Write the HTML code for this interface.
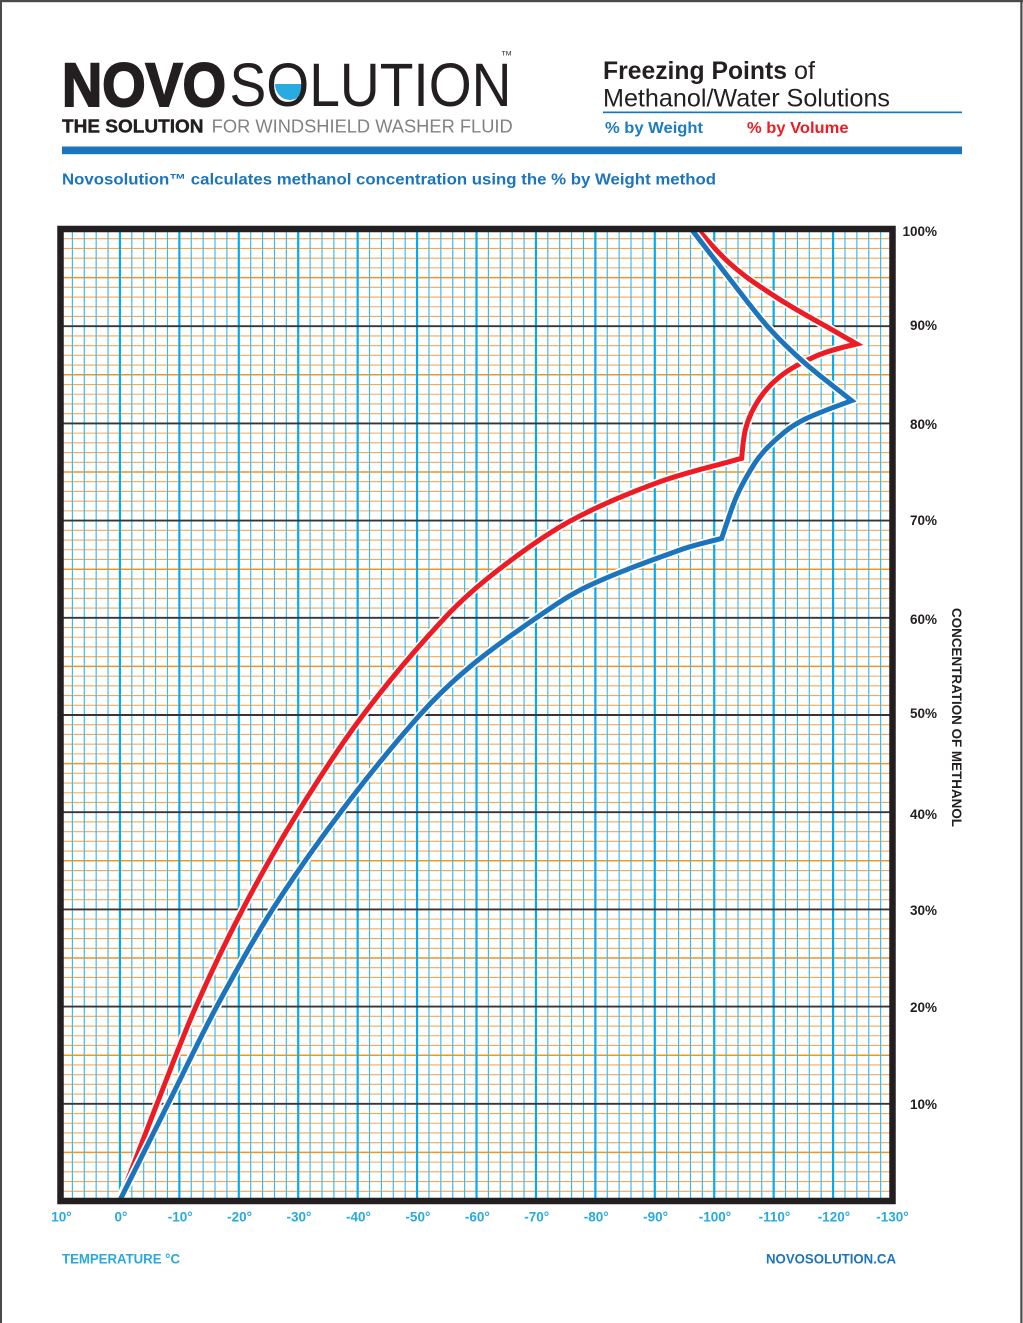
<!DOCTYPE html>
<html>
<head>
<meta charset="utf-8">
<style>
html,body{margin:0;padding:0;background:#fff;overflow:hidden;}
svg{display:block;}
</style>
</head>
<body>
<svg width="1023" height="1323" viewBox="0 0 1023 1323" xmlns="http://www.w3.org/2000/svg" font-family="'Liberation Sans', Arial, sans-serif">
<rect x="0" y="0" width="1023" height="1323" fill="#fff"/>
<!-- page border -->
<rect x="0" y="0" width="1023" height="2.2" fill="#4a4a4a"/>
<rect x="0" y="0" width="2" height="1323" fill="#4a4a4a"/>
<rect x="1020.3" y="0" width="2.2" height="1323" fill="#4a4a4a"/>

<!-- Logo -->
<path d="M275,84 A15,16 0 0 0 305,84 Z" fill="#29abe2"/>
<text x="62" y="106" font-size="61" font-weight="bold" fill="#231f20" stroke="#231f20" stroke-width="2" textLength="164" lengthAdjust="spacingAndGlyphs">NOVO</text>
<text x="229.5" y="106" font-size="61" fill="#231f20" textLength="282" lengthAdjust="spacingAndGlyphs">SOLUTION</text>
<text x="501.5" y="55.5" font-size="6.5" fill="#231f20" textLength="10" lengthAdjust="spacingAndGlyphs">TM</text>
<text x="62" y="132.3" font-size="18" font-weight="bold" fill="#231f20" stroke="#231f20" stroke-width="0.4" textLength="141.5" lengthAdjust="spacingAndGlyphs">THE SOLUTION</text>
<text x="211.7" y="132.3" font-size="18" fill="#808285" textLength="301" lengthAdjust="spacingAndGlyphs">FOR WINDSHIELD WASHER FLUID</text>

<!-- Right header -->
<text x="603" y="79" font-size="25" font-weight="bold" fill="#231f20" textLength="184" lengthAdjust="spacingAndGlyphs">Freezing Points</text>
<text x="794" y="79" font-size="25" fill="#231f20" textLength="21" lengthAdjust="spacingAndGlyphs">of</text>
<text x="603" y="106.7" font-size="25" fill="#231f20" textLength="287" lengthAdjust="spacingAndGlyphs">Methanol/Water Solutions</text>
<rect x="603" y="111.5" width="359" height="1.7" fill="#1c75bc"/>
<text x="605" y="133" font-size="16" font-weight="bold" fill="#1b7cc2" textLength="98" lengthAdjust="spacingAndGlyphs">% by Weight</text>
<text x="747" y="133" font-size="16" font-weight="bold" fill="#ed1c24" textLength="101.5" lengthAdjust="spacingAndGlyphs">% by Volume</text>

<!-- blue bar -->
<rect x="62" y="146.5" width="900" height="7.7" fill="#1c75bc"/>

<text x="62" y="184.5" font-size="15.5" font-weight="bold" fill="#1c75bc" textLength="654" lengthAdjust="spacingAndGlyphs">Novosolution™ calculates methanol concentration using the % by Weight method</text>

<!-- Grid: thin orange 1% lines -->
<path fill="none" stroke="#f8a854" stroke-width="1.1" d="M60 1191.28H893M60 1181.56H893M60 1171.84H893M60 1162.12H893M60 1142.68H893M60 1132.96H893M60 1123.24H893M60 1113.52H893M60 1094.08H893M60 1084.36H893M60 1074.64H893M60 1064.92H893M60 1045.48H893M60 1035.76H893M60 1026.04H893M60 1016.32H893M60 996.88H893M60 987.16H893M60 977.44H893M60 967.72H893M60 948.28H893M60 938.56H893M60 928.84H893M60 919.12H893M60 899.68H893M60 889.96H893M60 880.24H893M60 870.52H893M60 851.08H893M60 841.36H893M60 831.64H893M60 821.92H893M60 802.48H893M60 792.76H893M60 783.04H893M60 773.32H893M60 753.88H893M60 744.16H893M60 734.44H893M60 724.72H893M60 705.28H893M60 695.56H893M60 685.84H893M60 676.12H893M60 656.68H893M60 646.96H893M60 637.24H893M60 627.52H893M60 608.08H893M60 598.36H893M60 588.64H893M60 578.92H893M60 559.48H893M60 549.76H893M60 540.04H893M60 530.32H893M60 510.88H893M60 501.16H893M60 491.44H893M60 481.72H893M60 462.28H893M60 452.56H893M60 442.84H893M60 433.12H893M60 413.68H893M60 403.96H893M60 394.24H893M60 384.52H893M60 365.08H893M60 355.36H893M60 345.64H893M60 335.92H893M60 316.48H893M60 306.76H893M60 297.04H893M60 287.32H893M60 267.88H893M60 258.16H893M60 248.44H893M60 238.72H893"/>
<!-- 5% orange -->
<path fill="none" stroke="#f7941d" stroke-width="1.5" d="M60 1152.4H893M60 1055.2H893M60 958H893M60 860.8H893M60 763.6H893M60 666.4H893M60 569.2H893M60 472H893M60 374.8H893M60 277.6H893"/>
<!-- thin blue verticals -->
<path fill="none" stroke="#35b9ee" stroke-width="1.15" d="M72.39 229V1201M84.27 229V1201M96.16 229V1201M108.04 229V1201M131.82 229V1201M143.7 229V1201M155.59 229V1201M167.47 229V1201M191.25 229V1201M203.13 229V1201M215.02 229V1201M226.9 229V1201M250.68 229V1201M262.56 229V1201M274.45 229V1201M286.33 229V1201M310.11 229V1201M321.99 229V1201M333.88 229V1201M345.76 229V1201M369.54 229V1201M381.42 229V1201M393.31 229V1201M405.19 229V1201M428.97 229V1201M440.85 229V1201M452.74 229V1201M464.62 229V1201M488.4 229V1201M500.28 229V1201M512.17 229V1201M524.05 229V1201M547.83 229V1201M559.71 229V1201M571.6 229V1201M583.48 229V1201M607.26 229V1201M619.14 229V1201M631.03 229V1201M642.91 229V1201M666.69 229V1201M678.57 229V1201M690.46 229V1201M702.34 229V1201M726.12 229V1201M738 229V1201M749.89 229V1201M761.77 229V1201M785.55 229V1201M797.43 229V1201M809.32 229V1201M821.2 229V1201M844.98 229V1201M856.86 229V1201M868.75 229V1201M880.63 229V1201"/>
<!-- thick blue verticals (10 deg) -->
<path fill="none" stroke="#00aeef" stroke-width="2.2" d="M119.93 229V1201M179.36 229V1201M238.79 229V1201M298.22 229V1201M357.65 229V1201M417.08 229V1201M476.51 229V1201M535.94 229V1201M595.37 229V1201M654.8 229V1201M714.23 229V1201M773.66 229V1201M833.09 229V1201"/>
<!-- black 10% lines -->
<path fill="none" stroke="#3b3432" stroke-width="1.9" d="M60 1103.8H893M60 1006.6H893M60 909.4H893M60 812.2H893M60 715H893M60 617.8H893M60 520.6H893M60 423.4H893M60 326.2H893"/>

<!-- curves -->
<g fill="none" stroke-linejoin="miter" stroke-miterlimit="10" stroke-linecap="butt">
<path d="M119.5,1201 C132,1168.6 144.29,1136.13 157,1103.8 C169.77,1071.31 181.84,1038.53 195.9,1006.6 C210.38,973.72 225.89,941.2 242.6,909.4 C259.94,876.39 278.34,843.91 298,812.2 C318.55,779.05 339.58,746.12 363.1,715 C388.62,681.22 415.93,648.74 444.8,617.8 C461.37,600.04 479.95,584.02 499.2,569.2 C522.11,551.55 545.7,534.43 571.1,520.6 C599.49,505.15 629.64,492.79 660,481.7 C686.6,471.98 714.48,466.09 741.7,458.3 Q743.3,438.3 745.3,430 Q747.3,421.7 751.15,413.35 Q755,405 760.85,396.65 Q766.7,388.3 775,380.8 Q783.3,373.3 793.3,367.5 Q803.3,361.7 816.65,355.85 Q830,350 856.7,344 L826.7,326.7 Q793.3,308.3 776.65,297.5 Q760,286.7 751.65,280.85 Q743.3,275 731.65,265 Q720,255 700,231.7 L697.9,229" stroke="#fff" stroke-width="8.5"/>
<path d="M119.5,1201 C132,1168.6 144.29,1136.13 157,1103.8 C169.77,1071.31 181.84,1038.53 195.9,1006.6 C210.38,973.72 225.89,941.2 242.6,909.4 C259.94,876.39 278.34,843.91 298,812.2 C318.55,779.05 339.58,746.12 363.1,715 C388.62,681.22 415.93,648.74 444.8,617.8 C461.37,600.04 479.95,584.02 499.2,569.2 C522.11,551.55 545.7,534.43 571.1,520.6 C599.49,505.15 629.64,492.79 660,481.7 C686.6,471.98 714.48,466.09 741.7,458.3 Q743.3,438.3 745.3,430 Q747.3,421.7 751.15,413.35 Q755,405 760.85,396.65 Q766.7,388.3 775,380.8 Q783.3,373.3 793.3,367.5 Q803.3,361.7 816.65,355.85 Q830,350 856.7,344 L826.7,326.7 Q793.3,308.3 776.65,297.5 Q760,286.7 751.65,280.85 Q743.3,275 731.65,265 Q720,255 700,231.7 L697.9,229" stroke="#ed1c24" stroke-width="5"/>
<path d="M119.5,1201 C135.7,1168.61 151.9,1136.19 168.1,1103.8 C184.3,1071.41 199.56,1038.52 216.7,1006.6 C234.38,973.68 252.5,940.9 272.6,909.4 C293.87,876.08 316.72,843.71 340.6,812.2 C365.85,778.89 392,746.22 419.8,715 C435.25,697.65 452.16,681.57 470,666.7 C491.12,649.1 513.71,633.34 536.4,617.8 C552.65,606.67 568.89,595.11 586.7,586.7 C616.92,572.43 648.54,561.3 680,550 C693.58,545.12 707.8,542.2 721.7,538.3 Q728.3,518.3 732.5,506.65 Q736.7,495 742.5,484.15 Q748.3,473.3 754.15,464.15 Q760,455 768.35,446.65 Q776.7,438.3 785,431.65 Q793.3,425 805,419.15 Q816.7,413.3 851.7,400.7 C835.57,387.7 818.87,375.4 803.3,361.7 C790.91,350.79 778.92,339.36 768,327 C753.35,310.42 740.35,292.42 726.7,275 C715.45,260.65 704.44,246.14 693.3,231.7 L691.2,229" stroke="#fff" stroke-width="8.5"/>
<path d="M119.5,1201 C135.7,1168.61 151.9,1136.19 168.1,1103.8 C184.3,1071.41 199.56,1038.52 216.7,1006.6 C234.38,973.68 252.5,940.9 272.6,909.4 C293.87,876.08 316.72,843.71 340.6,812.2 C365.85,778.89 392,746.22 419.8,715 C435.25,697.65 452.16,681.57 470,666.7 C491.12,649.1 513.71,633.34 536.4,617.8 C552.65,606.67 568.89,595.11 586.7,586.7 C616.92,572.43 648.54,561.3 680,550 C693.58,545.12 707.8,542.2 721.7,538.3 Q728.3,518.3 732.5,506.65 Q736.7,495 742.5,484.15 Q748.3,473.3 754.15,464.15 Q760,455 768.35,446.65 Q776.7,438.3 785,431.65 Q793.3,425 805,419.15 Q816.7,413.3 851.7,400.7 C835.57,387.7 818.87,375.4 803.3,361.7 C790.91,350.79 778.92,339.36 768,327 C753.35,310.42 740.35,292.42 726.7,275 C715.45,260.65 704.44,246.14 693.3,231.7 L691.2,229" stroke="#1c75bc" stroke-width="5"/>
</g>

<!-- frame -->
<rect x="60.5" y="229" width="832" height="972" fill="none" stroke="#231f20" stroke-width="6.5"/>

<!-- x labels -->
<g font-size="13.5" font-weight="bold" fill="#27aae1" text-anchor="middle">
<text x="61.5" y="1221.7">10°</text>
<text x="121" y="1221.7">0°</text>
<text x="180.2" y="1221.7">-10°</text>
<text x="239.6" y="1221.7">-20°</text>
<text x="299" y="1221.7">-30°</text>
<text x="358.5" y="1221.7">-40°</text>
<text x="417.9" y="1221.7">-50°</text>
<text x="477.3" y="1221.7">-60°</text>
<text x="536.7" y="1221.7">-70°</text>
<text x="596.2" y="1221.7">-80°</text>
<text x="655.6" y="1221.7">-90°</text>
<text x="715" y="1221.7">-100°</text>
<text x="774.5" y="1221.7">-110°</text>
<text x="833.9" y="1221.7">-120°</text>
<text x="892.5" y="1221.7">-130°</text>
</g>

<!-- y labels -->
<g font-size="13.5" font-weight="bold" fill="#231f20" text-anchor="end">
<text x="937" y="236">100%</text>
<text x="937" y="330">90%</text>
<text x="937" y="429">80%</text>
<text x="937" y="525">70%</text>
<text x="937" y="624">60%</text>
<text x="937" y="718">50%</text>
<text x="937" y="819">40%</text>
<text x="937" y="915">30%</text>
<text x="937" y="1012">20%</text>
<text x="937" y="1109">10%</text>
</g>

<text transform="translate(952,717.5) rotate(90)" text-anchor="middle" font-size="14" font-weight="bold" fill="#231f20" textLength="219" lengthAdjust="spacingAndGlyphs">CONCENTRATION OF METHANOL</text>

<text x="62" y="1263.3" font-size="13.5" font-weight="bold" fill="#27aae1" textLength="118" lengthAdjust="spacingAndGlyphs">TEMPERATURE °C</text>
<text x="766" y="1263.3" font-size="13.5" font-weight="bold" fill="#1c75bc" textLength="130" lengthAdjust="spacingAndGlyphs">NOVOSOLUTION.CA</text>
</svg>
</body>
</html>
